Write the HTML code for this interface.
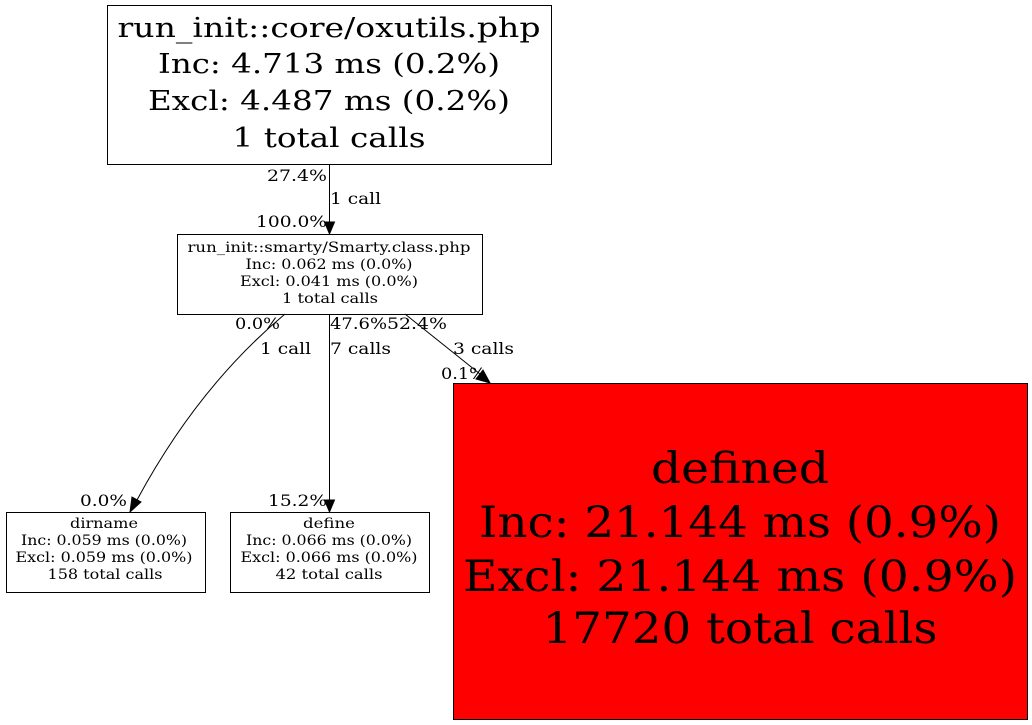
<!DOCTYPE html>
<html><head><meta charset="utf-8"><style>html,body{margin:0;padding:0;background:#fff;}svg{display:block}</style></head><body>
<svg width="1032" height="725" viewBox="0 0 1032 725" xmlns="http://www.w3.org/2000/svg">
<rect width="1032" height="725" fill="#fff"/>
<g fill="none" stroke="#000" stroke-width="1">
<rect x="107.5" y="5.5" width="444" height="159"/>
<rect x="177.5" y="234.5" width="305" height="80"/>
<rect x="6.5" y="512.5" width="199" height="80"/>
<rect x="230.5" y="512.5" width="199" height="80"/>
<rect x="453.5" y="383.5" width="574" height="336" fill="#ff0000"/>
<path d="M329.5 164 V222"/>
<path d="M329.5 314 V500"/>
<path d="M285 314 C230 360 180 420 137 500"/>
<path d="M405 314 L480 374"/>
</g>
<g fill="#000" stroke="#000">
<polygon points="324.5,222 334.5,222 329.5,234"/>
<polygon points="324.5,500 334.5,500 329.5,512"/>
<polygon points="132,497 141,502 130,512"/>
<polygon points="476,379 483,370 490,383"/>
</g>
<g font-family="'DejaVu Serif',serif" text-anchor="middle" font-size="27">
<text x="329" y="37" textLength="423" lengthAdjust="spacingAndGlyphs">run_init::core/oxutils.php</text>
<text x="329" y="73" textLength="342" lengthAdjust="spacingAndGlyphs">Inc: 4.713 ms (0.2%)</text>
<text x="329" y="110" textLength="362" lengthAdjust="spacingAndGlyphs">Excl: 4.487 ms (0.2%)</text>
<text x="329" y="147" textLength="193" lengthAdjust="spacingAndGlyphs">1 total calls</text>
</g>
<g font-family="'DejaVu Serif',serif" text-anchor="middle" font-size="14">
<text x="329" y="252" textLength="283" lengthAdjust="spacingAndGlyphs">run_init::smarty/Smarty.class.php</text>
<text x="329" y="269" textLength="167" lengthAdjust="spacingAndGlyphs">Inc: 0.062 ms (0.0%)</text>
<text x="329" y="286" textLength="178" lengthAdjust="spacingAndGlyphs">Excl: 0.041 ms (0.0%)</text>
<text x="330" y="303" textLength="96" lengthAdjust="spacingAndGlyphs">1 total calls</text>
<text x="104" y="528" textLength="68" lengthAdjust="spacingAndGlyphs">dirname</text>
<text x="104" y="545" textLength="166" lengthAdjust="spacingAndGlyphs">Inc: 0.059 ms (0.0%)</text>
<text x="104" y="562" textLength="177" lengthAdjust="spacingAndGlyphs">Excl: 0.059 ms (0.0%)</text>
<text x="105" y="579" textLength="115" lengthAdjust="spacingAndGlyphs">158 total calls</text>
<text x="329" y="528" textLength="52" lengthAdjust="spacingAndGlyphs">define</text>
<text x="329" y="545" textLength="166" lengthAdjust="spacingAndGlyphs">Inc: 0.066 ms (0.0%)</text>
<text x="329" y="562" textLength="177" lengthAdjust="spacingAndGlyphs">Excl: 0.066 ms (0.0%)</text>
<text x="329" y="579" textLength="107" lengthAdjust="spacingAndGlyphs">42 total calls</text>
</g>
<g font-family="'DejaVu Serif',serif" text-anchor="middle" font-size="43">
<text x="740" y="483" textLength="178" lengthAdjust="spacingAndGlyphs">defined</text>
<text x="740" y="537" textLength="522" lengthAdjust="spacingAndGlyphs">Inc: 21.144 ms (0.9%)</text>
<text x="740" y="591" textLength="554" lengthAdjust="spacingAndGlyphs">Excl: 21.144 ms (0.9%)</text>
<text x="740" y="643" textLength="395" lengthAdjust="spacingAndGlyphs">17720 total calls</text>
</g>
<g font-family="'DejaVu Serif',serif" font-size="16">
<text x="267" y="181" textLength="60" lengthAdjust="spacingAndGlyphs">27.4%</text>
<text x="330" y="204" textLength="51" lengthAdjust="spacingAndGlyphs">1 call</text>
<text x="256" y="227" textLength="71" lengthAdjust="spacingAndGlyphs">100.0%</text>
<text x="235" y="329" textLength="45" lengthAdjust="spacingAndGlyphs">0.0%</text>
<text x="260" y="354" textLength="51" lengthAdjust="spacingAndGlyphs">1 call</text>
<text x="80" y="506" textLength="47" lengthAdjust="spacingAndGlyphs">0.0%</text>
<text x="330" y="329" textLength="57" lengthAdjust="spacingAndGlyphs">47.6%</text>
<text x="330" y="354" textLength="61" lengthAdjust="spacingAndGlyphs">7 calls</text>
<text x="268" y="506" textLength="59" lengthAdjust="spacingAndGlyphs">15.2%</text>
<text x="387" y="329" textLength="60" lengthAdjust="spacingAndGlyphs">52.4%</text>
<text x="453" y="354" textLength="61" lengthAdjust="spacingAndGlyphs">3 calls</text>
<text x="441" y="379" textLength="45" lengthAdjust="spacingAndGlyphs">0.1%</text>
</g>
</svg>
</body></html>
